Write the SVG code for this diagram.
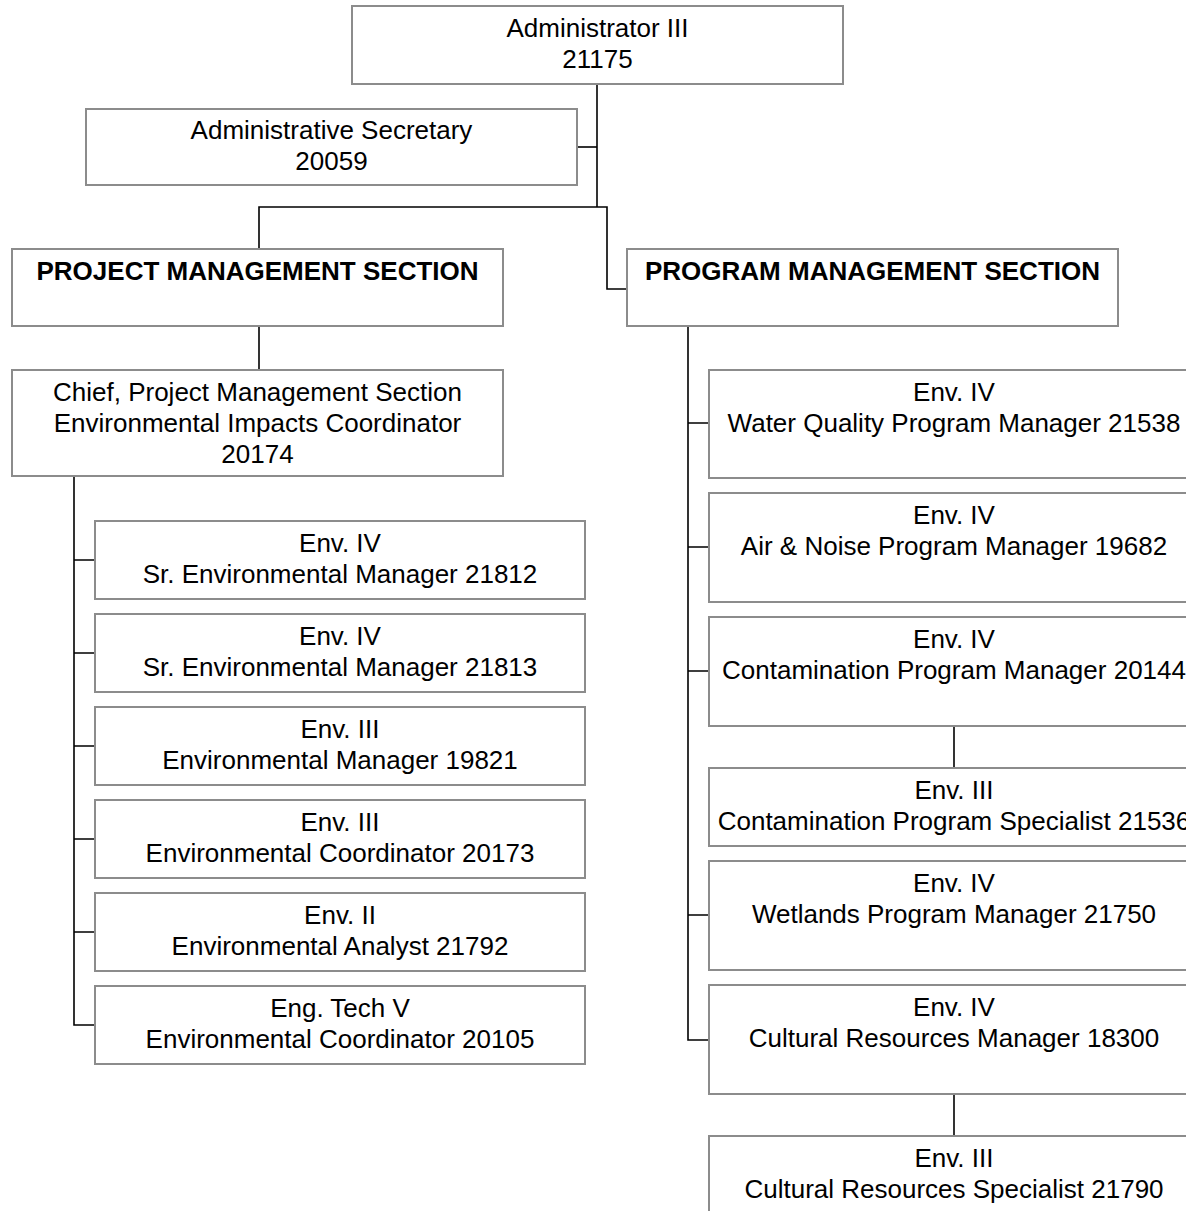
<svg xmlns="http://www.w3.org/2000/svg" width="1186" height="1211" viewBox="0 0 1186 1211">
<style>
.box{fill:#fff;stroke:#8c8c8c;stroke-width:2}
.t{font-family:"Liberation Sans",Arial,sans-serif;font-size:26px;fill:#000;text-anchor:middle}
.b{font-weight:bold}
.c{fill:none;stroke:#000;stroke-width:1.6}
</style>
<rect width="1186" height="1211" fill="#fff"/>
<g id="connectors">
<path class="c" d="M597,84 V207"/>
<path class="c" d="M577,147 H597"/>
<path class="c" d="M259,249 V207 H607 V289 H627"/>
<path class="c" d="M259,326 V370"/>
<path class="c" d="M74,476 V1025 H95"/>
<path class="c" d="M74,560 H95 M74,653 H95 M74,746 H95 M74,839 H95 M74,932 H95"/>
<path class="c" d="M688,326 V1040 H709"/>
<path class="c" d="M688,423 H709 M688,547 H709 M688,671 H709 M688,915 H709"/>
<path class="c" d="M954,726 V768"/>
<path class="c" d="M954,1094 V1136"/>
</g>
<g id="n-admin"><rect class="box" x="352" y="6" width="491" height="78"/><text class="t" x="597.5" y="37">Administrator III</text><text class="t" x="597.5" y="68">21175</text></g>
<g id="n-secretary"><rect class="box" x="86" y="109" width="491" height="76"/><text class="t" x="331.5" y="139">Administrative Secretary</text><text class="t" x="331.5" y="170">20059</text></g>
<g id="n-project"><rect class="box" x="12" y="249" width="491" height="77"/><text class="t b" x="257.5" y="280">PROJECT MANAGEMENT SECTION</text></g>
<g id="n-program"><rect class="box" x="627" y="249" width="491" height="77"/><text class="t b" x="872.5" y="280">PROGRAM MANAGEMENT SECTION</text></g>
<g id="n-chief"><rect class="box" x="12" y="370" width="491" height="106"/><text class="t" x="257.5" y="401">Chief, Project Management Section</text><text class="t" x="257.5" y="432">Environmental Impacts Coordinator</text><text class="t" x="257.5" y="463">20174</text></g>
<g id="n-21812"><rect class="box" x="95" y="521" width="490" height="78"/><text class="t" x="340" y="552">Env. IV</text><text class="t" x="340" y="583">Sr. Environmental Manager 21812</text></g>
<g id="n-21813"><rect class="box" x="95" y="614" width="490" height="78"/><text class="t" x="340" y="645">Env. IV</text><text class="t" x="340" y="676">Sr. Environmental Manager 21813</text></g>
<g id="n-19821"><rect class="box" x="95" y="707" width="490" height="78"/><text class="t" x="340" y="738">Env. III</text><text class="t" x="340" y="769">Environmental Manager 19821</text></g>
<g id="n-20173"><rect class="box" x="95" y="800" width="490" height="78"/><text class="t" x="340" y="831">Env. III</text><text class="t" x="340" y="862">Environmental Coordinator 20173</text></g>
<g id="n-21792"><rect class="box" x="95" y="893" width="490" height="78"/><text class="t" x="340" y="924">Env. II</text><text class="t" x="340" y="955">Environmental Analyst 21792</text></g>
<g id="n-20105"><rect class="box" x="95" y="986" width="490" height="78"/><text class="t" x="340" y="1017">Eng. Tech V</text><text class="t" x="340" y="1048">Environmental Coordinator 20105</text></g>
<g id="n-21538"><rect class="box" x="709" y="370" width="490" height="108"/><text class="t" x="954" y="401">Env. IV</text><text class="t" x="954" y="432">Water Quality Program Manager 21538</text></g>
<g id="n-19682"><rect class="box" x="709" y="493" width="490" height="109"/><text class="t" x="954" y="524">Env. IV</text><text class="t" x="954" y="555">Air &amp; Noise Program Manager 19682</text></g>
<g id="n-20144"><rect class="box" x="709" y="617" width="490" height="109"/><text class="t" x="954" y="648">Env. IV</text><text class="t" x="954" y="679">Contamination Program Manager 20144</text></g>
<g id="n-21536"><rect class="box" x="709" y="768" width="490" height="78"/><text class="t" x="954" y="799">Env. III</text><text class="t" x="954" y="830">Contamination Program Specialist 21536</text></g>
<g id="n-21750"><rect class="box" x="709" y="861" width="490" height="109"/><text class="t" x="954" y="892">Env. IV</text><text class="t" x="954" y="923">Wetlands Program Manager 21750</text></g>
<g id="n-18300"><rect class="box" x="709" y="985" width="490" height="109"/><text class="t" x="954" y="1016">Env. IV</text><text class="t" x="954" y="1047">Cultural Resources Manager 18300</text></g>
<g id="n-21790"><rect class="box" x="709" y="1136" width="490" height="109"/><text class="t" x="954" y="1167">Env. III</text><text class="t" x="954" y="1198">Cultural Resources Specialist 21790</text></g>
</svg>
